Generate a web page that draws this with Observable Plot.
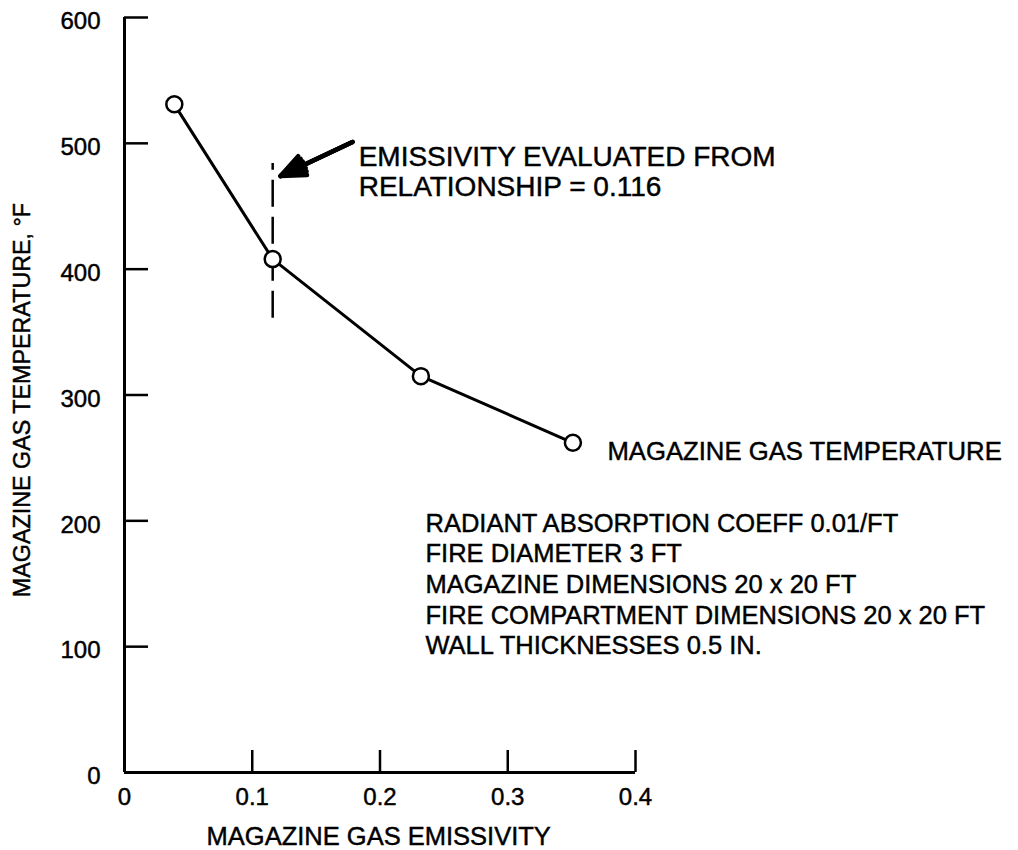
<!DOCTYPE html>
<html><head><meta charset="utf-8">
<script src="https://cdn.jsdelivr.net/npm/d3@7"></script>
<script src="https://cdn.jsdelivr.net/npm/@observablehq/plot@0.6"></script>
<style>body{margin:0;background:#fff} svg text{stroke:#000;stroke-width:0.45px}</style>
</head><body><div id="chart"></div>
<script>
const emissivity = [0.039, 0.116, 0.232, 0.351];
const temperature = [531, 408, 315, 262];
const xTicks = [0, 0.1, 0.2, 0.3, 0.4];
const yTicks = [0, 100, 200, 300, 400, 500, 600];
const xTickMarks = [0.1, 0.2, 0.3, 0.4];
const yTickMarks = [100, 200, 300, 400, 500, 600];
const evaluatedEmissivity = 0.116;
const dashedSpan = [361, 484];
const arrowSeg = [{x1: 0.1785, y1: 501, x2: 0.1221, y2: 474}];
const annotationLines = ["EMISSIVITY EVALUATED FROM", "RELATIONSHIP = 0.116"];
const seriesLabel = "MAGAZINE GAS TEMPERATURE";
const notes = [
  "RADIANT ABSORPTION COEFF 0.01/FT",
  "FIRE DIAMETER 3 FT",
  "MAGAZINE DIMENSIONS 20 x 20 FT",
  "FIRE COMPARTMENT DIMENSIONS 20 x 20 FT",
  "WALL THICKNESSES 0.5 IN."
];
const xTitle = "MAGAZINE GAS EMISSIVITY";
const yTitle = "MAGAZINE GAS TEMPERATURE, °F";

const points = emissivity.map((e, i) => ({e, t: temperature[i]}));

const chart = Plot.plot({
  width: 1018,
  height: 850,
  marginLeft: 124,
  marginRight: 383,
  marginTop: 17,
  marginBottom: 78,
  style: {fontFamily: "'Liberation Sans', Arial, Helvetica, sans-serif", fontSize: "24px", color: "#000", background: "#fff"},
  x: {domain: [0, 0.4]},
  y: {domain: [0, 600]},
  marks: [
    Plot.axisX({ticks: xTicks, tickSize: 0, tickPadding: 15, tickFormat: d => d === 0 ? "0" : d3.format(".1f")(d), label: null, fontSize: 24}),
    Plot.axisY({ticks: yTicks, tickSize: 0, tickPadding: 24, dy: 4, label: null, fontSize: 24}),
    Plot.axisY({ticks: yTickMarks, tickSize: -24, tickFormat: () => "", label: null, strokeWidth: 2.5}),
    Plot.axisX({ticks: xTickMarks, tickSize: -22, tickFormat: () => "", label: null, strokeWidth: 2.5}),
    Plot.ruleX([0], {y1: 0, y2: 600, strokeWidth: 3}),
    Plot.ruleY([0], {x1: 0, x2: 0.4, strokeWidth: 3}),
    Plot.ruleX([evaluatedEmissivity], {y1: dashedSpan[0], y2: dashedSpan[1], strokeWidth: 2.5, strokeDasharray: "27,10"}),
    Plot.arrow(arrowSeg, {x1: "x1", y1: "y1", x2: "x2", y2: "y2", strokeWidth: 4.5, headLength: 26, headAngle: 46, stroke: "#000"}),
    Plot.arrow(arrowSeg, {x1: "x1", y1: "y1", x2: "x2", y2: "y2", strokeWidth: 4.5, headLength: 25, headAngle: 30, stroke: "#000"}),
    Plot.arrow(arrowSeg, {x1: "x1", y1: "y1", x2: "x2", y2: "y2", strokeWidth: 4.5, headLength: 24, headAngle: 15, stroke: "#000"}),
    Plot.line(points, {x: "e", y: "t", strokeWidth: 3, stroke: "#000"}),
    Plot.dot(points, {x: "e", y: "t", r: 8, fill: "#fff", stroke: "#000", strokeWidth: 2.5}),
    Plot.text([annotationLines.join("\n")], {x: 0.1833, y: 499, text: d => d, textAnchor: "start", lineAnchor: "top", lineHeight: 1.07, fontSize: 28, fill: "#000"}),
    Plot.text([seriesLabel], {x: 0.378, y: 255, text: d => d, textAnchor: "start", fontSize: 25.7, fill: "#000"}),
    Plot.text([notes.join("\n")], {x: 0.2356, y: 208.5, text: d => d, textAnchor: "start", lineAnchor: "top", lineHeight: 1.2, fontSize: 25.5, fill: "#000"}),
    Plot.text([xTitle], {x: 0.199, y: -51, text: d => d, fontSize: 25.5, fill: "#000"}),
    Plot.text([yTitle], {x: 0, y: 296, dx: -102, text: d => d, rotate: -90, fontSize: 23.3, fill: "#000"})
  ]
});
document.getElementById("chart").appendChild(chart);
</script>
</body></html>
